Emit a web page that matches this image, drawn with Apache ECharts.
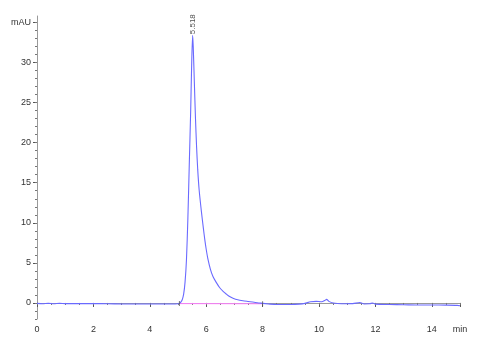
<!DOCTYPE html>
<html>
<head>
<meta charset="utf-8">
<script src="https://cdn.jsdelivr.net/npm/echarts@6/dist/echarts.min.js"></script>
<style>html,body{margin:0;padding:0;background:#fff}#c{width:477px;height:350px}</style>
</head>
<body>
<div id="c"></div>
<script>
// Retention time (min)
const times = [0, 0.2, 0.4, 0.6, 0.8, 1.0, 1.5, 2.0, 2.5, 3.0, 3.5, 4.0, 4.5, 4.9, 5.0, 5.05, 5.1, 5.15, 5.2, 5.25, 5.3, 5.35, 5.4, 5.45, 5.48, 5.518, 5.54, 5.58, 5.62, 5.66, 5.7, 5.75, 5.83, 5.9, 5.95, 6.0, 6.06, 6.15, 6.24, 6.35, 6.48, 6.6, 6.7, 6.83, 6.95, 7.12, 7.3, 7.5, 7.7, 7.9, 8.0, 8.2, 8.5, 9.0, 9.3, 9.5, 9.7, 9.9, 10.1, 10.2, 10.27, 10.35, 10.5, 10.8, 11.2, 11.45, 11.6, 11.8, 11.9, 12.0, 12.5, 13.0, 13.5, 14.0, 14.5, 14.9, 15.0];
// Absorbance (mAU)
const signal = [-0.05, -0.1, -0.05, -0.1, -0.05, -0.08, -0.08, -0.08, -0.1, -0.12, -0.12, -0.12, -0.12, -0.12, -0.1, -0.05, 0.1, 0.4, 1.1, 2.6, 5.4, 10.5, 17.3, 24, 29, 33.4, 32, 27.5, 23, 19.4, 16.6, 14.1, 11.4, 9.3, 7.9, 6.7, 5.5, 4.2, 3.3, 2.6, 1.9, 1.45, 1.15, 0.8, 0.6, 0.4, 0.28, 0.18, 0.08, 0.0, -0.05, -0.12, -0.2, -0.2, -0.15, -0.05, 0.15, 0.2, 0.15, 0.3, 0.45, 0.2, 0.0, -0.1, -0.08, 0.05, -0.12, -0.1, 0.0, -0.15, -0.2, -0.22, -0.25, -0.25, -0.27, -0.3, -0.35];
// Integration baseline under the main peak
const baseTimes = [5.05, 8.0];
const baseValues = [-0.08, -0.1];
// Peak annotation
const peakTime = 5.518;
const peakValue = 33.4;
const peakLabel = '5.518';
// Axis ticks
const xMajor = [0, 2, 4, 6, 8, 10, 12, 14, 15];
const xMinor = [];
for (let i = 0; i <= 30; i++) xMinor.push(i * 0.5);
const yMajor = [0, 5, 10, 15, 20, 25, 30, 35];
const yMinor = [];
for (let i = -2; i <= 35; i++) yMinor.push(i);

const chart = echarts.init(document.getElementById('c'), null, {renderer: 'canvas'});
const axisColor = '#9a9a9a';
const labelStyle = {color: '#333', fontSize: 9, fontFamily: 'Liberation Sans, Arial, sans-serif'};

const trace = times.map((t, i) => [t, signal[i]]);
const base = baseTimes.map((t, i) => [t, baseValues[i]]);

chart.setOption({
  animation: false,
  backgroundColor: '#fff',
  grid: {left: 37, right: 17, top: 16, bottom: 31, containLabel: false},
  xAxis: [
    {
      type: 'value', min: 0, max: 15, position: 'bottom',
      axisLine: {show: true, lineStyle: {color: axisColor, width: 1}},
      axisTick: {show: true, inside: false, length: 4, customValues: xMajor, lineStyle: {color: '#555'}},
      axisLabel: Object.assign({show: true, margin: 6, customValues: xMajor,
        formatter: v => (v === 15 ? 'min' : String(v))}, labelStyle),
      splitLine: {show: false}
    },
    {
      type: 'value', min: 0, max: 15, position: 'bottom',
      axisLine: {show: false},
      axisTick: {show: true, inside: false, length: 2, customValues: xMinor, lineStyle: {color: '#777'}},
      axisLabel: {show: false},
      splitLine: {show: false}
    }
  ],
  yAxis: [
    {
      type: 'value', min: -2, max: 35.8, position: 'left',
      axisLine: {show: true, lineStyle: {color: axisColor, width: 1}},
      axisTick: {show: true, inside: false, length: 4, customValues: yMajor, lineStyle: {color: '#555'}},
      axisLabel: Object.assign({show: true, margin: 6, customValues: yMajor,
        formatter: v => (v === 35 ? 'mAU' : String(v))}, labelStyle),
      splitLine: {show: false}
    },
    {
      type: 'value', min: -2, max: 35.8, position: 'left',
      axisLine: {show: false},
      axisTick: {show: true, inside: false, length: 2, customValues: yMinor, lineStyle: {color: '#777'}},
      axisLabel: {show: false},
      splitLine: {show: false}
    }
  ],
  series: [
    {
      type: 'line', data: base, xAxisIndex: 0, yAxisIndex: 0,
      showSymbol: false, silent: true,
      lineStyle: {color: '#ff80ff', width: 1}, z: 1
    },
    {
      type: 'line', data: trace, xAxisIndex: 0, yAxisIndex: 0,
      showSymbol: false, smooth: 0.25, silent: true,
      lineStyle: {color: '#6a6aff', width: 1.1}, z: 2
    },
    {
      type: 'scatter', xAxisIndex: 0, yAxisIndex: 0,
      data: base, symbol: 'rect', symbolSize: [1, 5],
      itemStyle: {color: '#555'}, silent: true, z: 3
    },
    {
      type: 'scatter', xAxisIndex: 0, yAxisIndex: 0,
      data: [[peakTime, peakValue]], symbolSize: 0, silent: true, z: 4,
      label: {
        show: true, position: 'top', distance: 1, rotate: 90,
        align: 'left', verticalAlign: 'middle',
        formatter: () => peakLabel,
        color: '#222', fontSize: 8, fontFamily: 'Liberation Sans, Arial, sans-serif'
      }
    }
  ]
});
</script>
</body>
</html>
